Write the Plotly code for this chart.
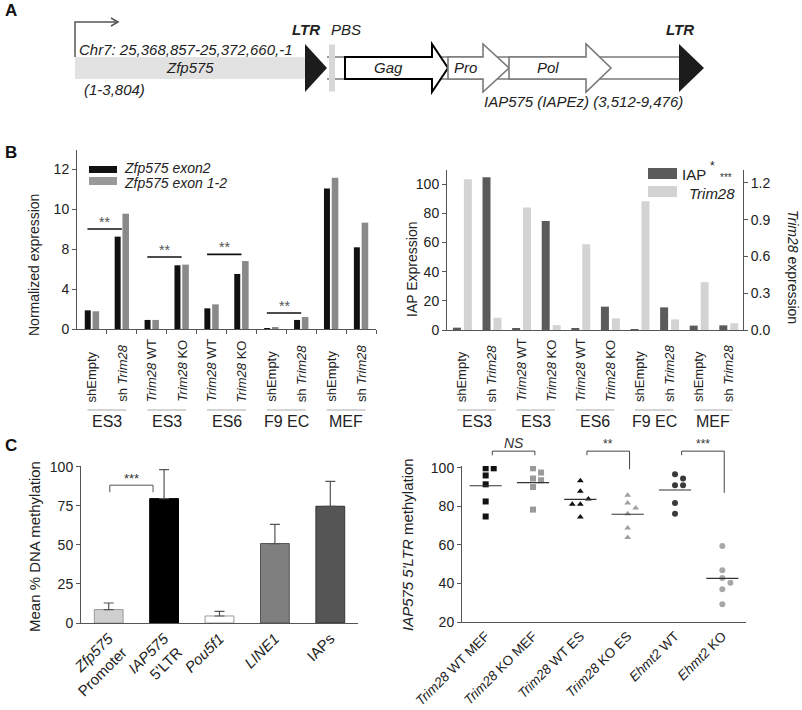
import numpy as np
import plotly.graph_objects as go

W, H = 802, 710
FONT = 'Liberation Sans, Arial, sans-serif'

# ---------------- A: Zfp575 / IAP575 locus (schematic map units) ----------------
zfp_span = [0, 230]
ltr_start = [230, 604]
ltr_end = [252, 629]
pbs_span = [254, 260]
orf_names = ['Gag', 'Pro', 'Pol']
orf_start = [270, 373, 434]
orf_head = [357, 408, 511]
orf_end = [373, 434, 536]

# ---------------- B left: Zfp575 expression ----------------
conditions = ['shEmpty', 'sh <i>Trim28</i>', '<i>Trim28</i> WT', '<i>Trim28</i> KO',
              '<i>Trim28</i> WT', '<i>Trim28</i> KO', 'shEmpty', 'sh <i>Trim28</i>',
              'shEmpty', 'sh <i>Trim28</i>']
cell_lines = ['ES3', 'ES3', 'ES6', 'F9 EC', 'MEF']
zfp_exon2 = [1.40, 6.93, 0.68, 4.78, 1.55, 4.13, 0.05, 0.68, 10.55, 6.13]
zfp_exon12 = [1.33, 8.65, 0.68, 4.83, 1.85, 5.10, 0.15, 0.90, 11.35, 7.98]
# axis is printed 0, 4, 8, 10, 12 at even spacing
zfp_tick_pos = [0, 3, 6, 9, 12]
zfp_tick_text = ['0', '4', '8', '10', '12']
sig_b_pairs = [(0, 1), (2, 3), (4, 5), (6, 7)]
sig_b_level = [7.5, 5.4, 5.6, 1.2]

# ---------------- B right: IAP vs Trim28 ----------------
iap_expr = [1.6, 104.6, 1.1, 74.7, 0.7, 16.0, 0.5, 15.5, 3.0, 3.2]
trim28_expr = [1.23, 0.10, 1.00, 0.04, 0.70, 0.095, 1.05, 0.087, 0.39, 0.055]

# ---------------- C left: mean % DNA methylation ----------------
regions = ['<i>Zfp575</i><br>Promoter', "<i>IAP575</i><br>5'LTR", '<i>Pou5f1</i>', '<i>LINE1</i>', 'IAPs']
meth_mean = [8.6, 79.7, 4.5, 50.9, 74.8]
meth_err = [4.2, 18.6, 3.0, 12.3, 16.0]

# ---------------- C right: IAP575 5'LTR methylation per clone ----------------
genotypes = ['<i>Trim28</i> WT MEF', '<i>Trim28</i> KO MEF', '<i>Trim28</i> WT ES',
             '<i>Trim28</i> KO ES', '<i>Ehmt2</i> WT', '<i>Ehmt2</i> KO']
ltr_meth = [
    [99.7, 99.7, 96.0, 91.4, 82.5, 74.7],
    [99.7, 97.5, 94.4, 93.5, 90.0, 78.3],
    [93.2, 87.8, 81.1, 83.8, 81.1, 74.5],
    [85.7, 81.7, 79.1, 76.2, 68.8, 63.8],
    [96.6, 94.4, 90.9, 90.9, 81.7, 76.2],
    [59.4, 46.8, 42.8, 40.4, 37.0, 29.2],
]
sig_c_pairs = [(0, 1), (2, 3), (4, 5)]
sig_c_text = ['<i>NS</i>', '**', '***']
sig_c_drop = [106.5, 99.2, 87.0]


def px(x):
    return x / W


def py(y):
    return 1 - y / H


annotations = []
shapes = []


def note(text, x, y, xref='paper', yref='paper', size=14, color='#222', **kw):
    d = dict(text=text, x=x, y=y, xref=xref, yref=yref, showarrow=False,
             xanchor='center', yanchor='middle',
             font=dict(family=FONT, size=size, color=color))
    d.update(kw)
    annotations.append(d)


def poly(points, close=True):
    s = 'M ' + ' L '.join(f'{a},{b}' for a, b in points)
    return s + (' Z' if close else '')


fig = go.Figure()

# ---------- panel A ----------
A = dict(xref='x6', yref='y6')
shapes.append(dict(type='rect', x0=zfp_span[0], x1=zfp_span[1], y0=-11, y1=11,
                   fillcolor='#e2e2e2', line=dict(width=0), **A))
for yy in (-11, 11):
    shapes.append(dict(type='line', x0=ltr_end[0], x1=ltr_start[1], y0=yy, y1=yy,
                       line=dict(color='#7a7a7a', width=1.6), **A))
for name, s, h, e in zip(orf_names, orf_start, orf_head, orf_end):
    col, lw = ('#000', 2) if name == 'Gag' else ('#7a7a7a', 1.6)
    shapes.append(dict(type='path', path=poly([(s, -11), (h, -11), (h, -24), (e, 0), (h, 24), (h, 11), (s, 11)]),
                       fillcolor='white', line=dict(color=col, width=lw), **A))
    note(f'<i>{name}</i>', (s + h) / 2, 0, 'x6', 'y6', size=15)
for s, e in zip(ltr_start, ltr_end):
    shapes.append(dict(type='path', path=poly([(s, -24), (e, 0), (s, 24)]),
                       fillcolor='#1c1c1c', line=dict(width=0), **A))
    note('<b><i>LTR</i></b>', s + 1, 38, 'x6', 'y6', size=15)
shapes.append(dict(type='rect', x0=pbs_span[0], x1=pbs_span[1], y0=-23.5, y1=23.5,
                   fillcolor='#d8d8d8', line=dict(width=0), **A))
shapes.append(dict(type='path', path=poly([(0, 11), (0, 46), (43, 46)], close=False),
                   line=dict(color='#555', width=1.5), **A))
shapes.append(dict(type='path', path=poly([(36, 50), (43, 46), (36, 42)], close=False),
                   line=dict(color='#555', width=1.5), **A))
note('<i>Chr7: 25,368,857-25,372,660,-1</i>', 2, 18, 'x6', 'y6', size=15, xanchor='left')
note('<i>Zfp575</i>', sum(zfp_span) / 2, 0, 'x6', 'y6', size=15)
note('<i>(1-3,804)</i>', 7, -22, 'x6', 'y6', size=15, xanchor='left')
note('<i>PBS</i>', pbs_span[1] + 11, 38, 'x6', 'y6', size=15)
note('<i>IAP575 (IAPEz) (3,512-9,476)</i>', 508, -34, 'x6', 'y6', size=15)

# ---------- panel B left ----------
idx = list(range(len(conditions)))
fig.add_trace(go.Bar(x=idx, y=zfp_exon2, xaxis='x', yaxis='y', offset=-0.24, width=0.2,
                     marker=dict(color='#111', line=dict(width=0))))
fig.add_trace(go.Bar(x=idx, y=zfp_exon12, xaxis='x', yaxis='y', offset=0.02, width=0.22,
                     marker=dict(color='#8a8a8a', line=dict(width=0))))
for (i, j), lvl in zip(sig_b_pairs, sig_b_level):
    shapes.append(dict(type='line', xref='x', yref='y', x0=i - 0.15, x1=j + 0.0, y0=lvl, y1=lvl,
                       line=dict(color='#111', width=1.6)))
    note('**', (i + j) / 2 - 0.07, lvl, 'x', 'y', size=14, color='#555', yanchor='bottom', yshift=-3)

# legend B left
shapes.append(dict(type='rect', xref='paper', yref='paper', x0=px(89), x1=px(117), y0=py(173), y1=py(166),
                   fillcolor='#111', line=dict(width=0)))
shapes.append(dict(type='rect', xref='paper', yref='paper', x0=px(89), x1=px(117), y0=py(185), y1=py(177),
                   fillcolor='#999', line=dict(width=0)))
note('<i>Zfp575 exon2</i>', px(122), py(168), size=14, xanchor='left')
note('<i>Zfp575 exon 1-2</i>', px(122), py(183), size=14, xanchor='left')
note('Normalized expression', px(34), py(265), size=14, textangle=-90)

# ---------- panel B right ----------
fig.add_trace(go.Bar(x=idx, y=iap_expr, xaxis='x2', yaxis='y2', offset=-0.30, width=0.27,
                     marker=dict(color='#5b5b5b', line=dict(width=0))))
fig.add_trace(go.Bar(x=idx, y=trim28_expr, xaxis='x2', yaxis='y3', offset=0.07, width=0.27,
                     marker=dict(color='#d3d3d3', line=dict(width=0))))
shapes.append(dict(type='rect', xref='paper', yref='paper', x0=px(648), x1=px(677), y0=py(179), y1=py(168),
                   fillcolor='#5b5b5b', line=dict(width=0)))
shapes.append(dict(type='rect', xref='paper', yref='paper', x0=px(648), x1=px(677), y0=py(197), y1=py(186),
                   fillcolor='#d3d3d3', line=dict(width=0)))
note('IAP', px(680), py(174), size=15, xanchor='left')
note('*', px(708), py(166), size=12, xanchor='left')
note('***', px(718), py(177), size=10, color='#333', xanchor='left')
note('<i>Trim28</i>', px(737), py(193), size=15, xanchor='right')
note('IAP Expression', px(412), py(270), size=14, textangle=-90)
note('<i>Trim28</i> expression', px(793), py(267), size=14, textangle=90)

# ---------- category labels under panel B ----------
for xa in ('x', 'x2'):
    for i, lab in enumerate(conditions):
        note(lab, i, py(404), xa, 'paper', size=13, textangle=-90, yanchor='bottom')
    for g, cl in enumerate(cell_lines):
        shapes.append(dict(type='line', xref=xa, yref='paper', x0=2 * g - 0.15, x1=2 * g + 1.15,
                           y0=py(410), y1=py(410), line=dict(color='#aaa', width=1)))
        note(cl, 2 * g + 0.5, py(421), xa, 'paper', size=16)

# ---------- panel C left ----------
fig.add_trace(go.Bar(
    x=list(range(len(regions))), y=meth_mean, xaxis='x4', yaxis='y4', width=0.52,
    marker=dict(color=['#cfcfcf', '#000000', '#ffffff', '#7f7f7f', '#555555'],
                line=dict(color=['#999', '#000', '#999', '#555', '#333'], width=1),
                pattern=dict(shape=['', '', '\\', '', ''], fgcolor='#777', bgcolor='white',
                             size=7, solidity=0.15, fillmode='replace')),
    error_y=dict(type='data', array=meth_err, arrayminus=[0] * len(meth_err), symmetric=False,
                 color='#555', thickness=1.2, width=5)))
shapes.append(dict(type='path', xref='x4', yref='y4',
                   path=poly([(0.02, 83.8), (0.02, 88.3), (0.8, 88.3), (0.8, 83.8)], close=False),
                   line=dict(color='#555', width=1)))
note('***', 0.41, 88.3, 'x4', 'y4', size=13, color='#333', yanchor='bottom', yshift=-3)
note('Mean % DNA methylation', px(34), py(547), size=15, textangle=-90)

# ---------- panel C right ----------
y5_range = [20, 100.9]
y5_dom = [py(622), py(466)]


def y5p(v):
    return y5_dom[0] + (v - y5_range[0]) / (y5_range[1] - y5_range[0]) * (y5_dom[1] - y5_dom[0])


def dodge(values, step=0.17, tol=3.2):
    placed, offs = [], []
    for v in values:
        for k in (0, 1, -1, 2, -2):
            if all(pk != k or abs(v - pv) > tol for pv, pk in placed):
                break
        placed.append((v, k))
        offs.append(k * step)
    return offs


symbols = ['square', 'square', 'triangle-up', 'triangle-up', 'circle', 'circle']
colors = ['#111111', '#9a9a9a', '#111111', '#a0a0a0', '#3a3a3a', '#a8a8a8']
for g, vals in enumerate(ltr_meth):
    xs = [g + o for o in dodge(vals)]
    fig.add_trace(go.Scatter(x=xs, y=vals, xaxis='x5', yaxis='y5', mode='markers',
                             marker=dict(symbol=symbols[g], color=colors[g], size=6, line=dict(width=0))))
mx, my = [], []
for g, vals in enumerate(ltr_meth):
    m = float(np.mean(vals))
    mx += [g - 0.34, g + 0.34, None]
    my += [m, m, None]
fig.add_trace(go.Scatter(x=mx, y=my, xaxis='x5', yaxis='y5', mode='lines',
                         line=dict(color='#333', width=1.2)))
for (i, j), txt, drop in zip(sig_c_pairs, sig_c_text, sig_c_drop):
    x0, x1 = i + 0.14, j + 0.04
    shapes.append(dict(type='path', xref='x5', yref='paper',
                       path=poly([(x0, y5p(106.5)), (x0, y5p(108.6)), (x1, y5p(108.6)), (x1, y5p(drop))], close=False),
                       line=dict(color='#444', width=1)))
    note(txt, (x0 + x1) / 2, y5p(108.6), 'x5', 'paper', size=14 if 'NS' in txt else 12,
         color='#333', yanchor='bottom', yshift=-2)
note("<i>IAP575 5'LTR</i> methylation", px(407), py(545), size=15, textangle=-90)

# ---------- panel letters ----------
for lab, yy in (('A', 11), ('B', 153), ('C', 445)):
    note(f'<b>{lab}</b>', px(3), py(yy), size=17, color='#111', xanchor='left')

# ---------- axes ----------
tickfont = dict(family=FONT, size=14, color='#222')
base = dict(showgrid=False, zeroline=False, showline=True, linecolor='#555', linewidth=1,
            ticks='outside', ticklen=4, tickcolor='#555', tickfont=tickfont, automargin=False)
n = len(conditions)

fig.update_layout(
    width=W, height=H, margin=dict(l=0, r=0, t=0, b=0, autoexpand=False),
    paper_bgcolor='white', plot_bgcolor='white', showlegend=False, barmode='overlay',
    font=dict(family=FONT, color='#222'),
    xaxis=dict(base, domain=[px(77), px(376)], range=[-0.5, n - 0.5], anchor='y',
               tickvals=[i + 0.5 for i in range(n)], showticklabels=False),
    yaxis=dict(base, domain=[py(329), py(150)], range=[0, 13.43], anchor='x',
               tickvals=zfp_tick_pos, ticktext=zfp_tick_text),
    xaxis2=dict(base, domain=[px(447), px(743)], range=[-0.5, n - 0.5], anchor='y2',
                ticks='', showticklabels=False),
    yaxis2=dict(base, domain=[py(330), py(170)], range=[0, 109.6], anchor='x2',
                tickvals=[0, 20, 40, 60, 80, 100]),
    yaxis3=dict(base, overlaying='y2', side='right', anchor='x2', range=[0, 1.306],
                tickvals=[0, 0.3, 0.6, 0.9, 1.2], tickformat='.1f'),
    xaxis4=dict(base, domain=[px(81), px(358)], range=[-0.5, len(regions) - 0.5], anchor='y4',
                ticks='', tickvals=list(range(len(regions))), ticktext=regions, tickangle=-45,
                tickfont=dict(family=FONT, size=15, color='#222')),
    yaxis4=dict(base, domain=[py(623), py(466)], range=[0, 100.6], anchor='x4',
                tickvals=[0, 25, 50, 75, 100]),
    xaxis5=dict(base, domain=[px(462), px(746)], range=[-0.5, len(genotypes) - 0.5], anchor='y5',
                ticks='', tickvals=list(range(len(genotypes))), ticktext=genotypes, tickangle=-45,
                tickfont=dict(family=FONT, size=13.5, color='#222')),
    yaxis5=dict(base, domain=y5_dom, range=y5_range, anchor='x5',
                tickvals=[20, 40, 60, 80, 100]),
    xaxis6=dict(domain=[px(55), px(725)], range=[-20, 650], visible=False, anchor='y6', automargin=False),
    yaxis6=dict(domain=[py(130), py(15)], range=[-62, 53], visible=False, anchor='x6', automargin=False),
    shapes=shapes,
    annotations=annotations,
)

# the page body keeps its default 8px margin otherwise
fig.write_html("out.html", config={'displayModeBar': False},
               post_script="document.body.style.margin = '0';")
